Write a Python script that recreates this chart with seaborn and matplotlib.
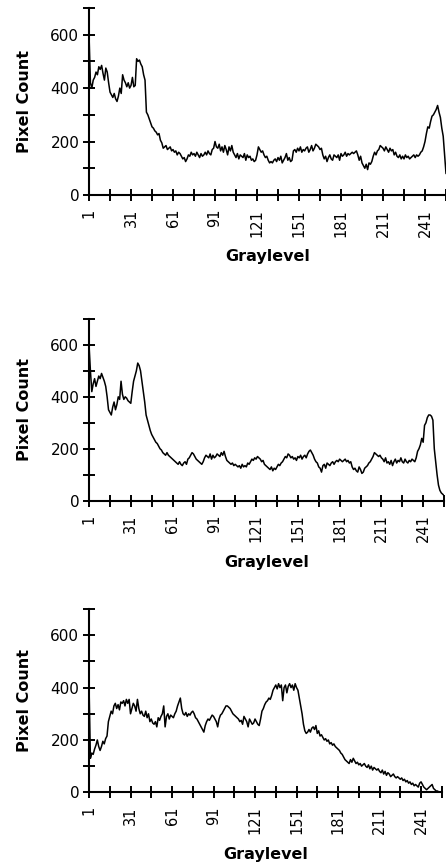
"""
Three graylevel histograms stacked vertically (pixel count per graylevel).
"""

import numpy as np
import matplotlib
matplotlib.use('Agg')
import matplotlib.pyplot as plt
import seaborn as sns

# ---- data -----------------------------------------------------------------
graylevel = np.arange(1, 257)

counts_top = [
    600, 420, 400, 430, 440, 460, 450, 480, 470, 485, 455, 430, 475, 460, 420, 385,
    375, 365, 380, 360, 350, 370, 400, 380, 450, 430, 420, 405, 420, 400, 410, 440,
    405, 410, 510, 500, 505, 490, 480, 450, 430, 310, 300, 285, 270, 255, 250, 240,
    235, 225, 230, 205, 195, 175, 180, 185, 170, 175, 180, 165, 170, 160, 165, 150,
    160, 155, 145, 135, 140, 125, 135, 150, 145, 160, 150, 155, 145, 160, 150, 140,
    155, 145, 150, 160, 150, 165, 155, 150, 170, 175, 200, 180, 175, 190, 165, 180,
    160, 185, 170, 150, 180, 165, 185, 160, 150, 140, 155, 135, 150, 145, 140, 155,
    130, 150, 140, 145, 130, 135, 125, 130, 150, 180, 170, 160, 165, 150, 140, 145,
    130, 120, 125, 120, 130, 135, 125, 140, 130, 145, 120, 130, 140, 155, 130, 140,
    125, 130, 165, 170, 160, 175, 165, 180, 160, 170, 165, 175, 180, 160, 170, 185,
    165, 175, 190, 185, 180, 170, 175, 150, 135, 145, 125, 140, 150, 135, 130, 150,
    145, 140, 150, 130, 155, 145, 150, 160, 145, 155, 150, 155, 160, 155, 160, 165,
    150, 130, 145, 120, 110, 100, 115, 95, 120, 115, 125, 145, 160, 150, 165, 170,
    185, 180, 175, 165, 180, 170, 160, 175, 165, 170, 150, 160, 145, 140, 150, 135,
    145, 135, 150, 140, 145, 135, 140, 145, 150, 140, 150, 145, 150, 160, 165, 180,
    200, 230, 255, 250, 275, 295, 300, 310, 320, 335, 310, 290, 250, 220, 150, 80,
]

counts_mid = [
    600, 500, 420, 450, 470, 440, 460, 480, 470, 490, 475, 460, 440, 400, 350, 340,
    330, 360, 380, 350, 370, 400, 390, 460, 410, 390, 400, 395, 385, 380, 375, 420,
    460, 480, 500, 530, 520, 500, 460, 420, 380, 330, 310, 290, 270, 255, 245, 235,
    225, 220, 210, 200, 195, 185, 180, 175, 185, 175, 170, 165, 160, 155, 150, 145,
    140, 150, 140, 135, 145, 150, 140, 160, 165, 175, 185, 180, 170, 160, 155, 150,
    145, 140, 150, 165, 175, 170, 165, 180, 160, 175, 165, 170, 180, 175, 170, 185,
    175, 190, 170, 155, 150, 145, 140, 145, 135, 140, 135, 130, 135, 125, 140, 130,
    135, 130, 145, 140, 150, 160, 155, 165, 160, 170, 165, 160, 150, 155, 140, 135,
    130, 125, 120, 130, 115, 125, 120, 130, 140, 135, 145, 150, 160, 170, 165, 180,
    175, 165, 170, 160, 165, 155, 170, 165, 175, 160, 170, 175, 165, 180, 190, 195,
    185, 175, 160, 150, 145, 130, 125, 110, 135, 140, 125, 145, 140, 135, 145, 150,
    140, 150, 155, 150, 160, 155, 150, 155, 160, 150, 155, 145, 150, 130, 120, 125,
    115, 110, 130, 120, 105, 110, 125, 130, 135, 145, 150, 160, 170, 185, 180, 175,
    170, 175, 165, 160, 150, 165, 145, 150, 140, 155, 135, 150, 160, 145, 155, 150,
    165, 150, 145, 160, 150, 145, 155, 150, 160, 155, 150, 165, 190, 200, 215, 240,
    225, 290, 300, 320, 330, 330, 325, 310, 200, 150, 100, 60, 40, 30, 25, 20,
]

counts_bot = [
    410, 130, 150, 145, 165, 180, 200, 175, 160, 175, 195, 185, 205, 215, 270, 290,
    310, 300, 330, 340, 320, 335, 315, 345, 340, 350, 330, 355, 340, 355, 300, 320,
    340, 330, 310, 355, 320, 300, 310, 295, 290, 310, 285, 300, 270, 280, 265, 260,
    270, 250, 285, 275, 290, 300, 330, 250, 290, 300, 280, 295, 290, 285, 300, 310,
    330, 345, 360, 320, 300, 295, 305, 290, 300, 295, 305, 310, 300, 285, 280, 270,
    260, 250, 240, 230, 255, 270, 280, 275, 285, 295, 290, 280, 270, 250, 280, 295,
    300, 310, 320, 330, 330, 325, 320, 310, 300, 295, 290, 285, 280, 270, 275, 260,
    290, 280, 270, 250, 280, 270, 260, 265, 280, 270, 260, 255, 280, 310, 320, 335,
    345, 350, 360, 355, 370, 390, 400, 410, 395, 415, 400, 410, 350, 400, 410, 380,
    405, 415, 400, 410, 390, 415, 400, 390, 360, 330, 300, 260, 235, 225, 230, 240,
    230, 245, 250, 240, 255, 225, 235, 215, 220, 210, 200, 205, 195, 200, 185, 190,
    180, 185, 175, 170, 165, 160, 150, 145, 135, 125, 120, 115, 110, 125, 115, 130,
    120, 110, 115, 105, 110, 100, 105, 110, 100, 95, 105, 90, 100, 85, 95, 90,
    85, 90, 80, 75, 85, 70, 80, 65, 75, 70, 60, 65, 70, 60, 55, 60,
    55, 50, 55, 45, 50, 40, 45, 35, 40, 30, 35, 25, 30, 25, 20, 35,
    40, 30, 20, 15, 10, 15, 20, 25, 30, 15, 10, 5, 5, 0, 0, 0,
]

y_major = [0, 200, 400, 600]
y_minor = [100, 300, 500, 700]
x_major = [1, 31, 61, 91, 121, 151, 181, 211, 241]
x_minor = [16, 46, 76, 106, 136, 166, 196, 226, 256]

assert len(counts_top) == len(counts_mid) == len(counts_bot) == 256

# ---- style ----------------------------------------------------------------
sns.set_style('ticks')
plt.rcParams['font.family'] = ['DejaVu Sans']
plt.rcParams['text.color'] = 'black'
plt.rcParams['axes.labelcolor'] = 'black'
plt.rcParams['xtick.color'] = 'black'
plt.rcParams['ytick.color'] = 'black'

fig = plt.figure(figsize=(4.46, 8.65), dpi=100)

# axes boxes in figure fractions (left, bottom, width, height)
boxes = [
    (0.1996, 0.7746, 0.8004, 0.2162),
    (0.1996, 0.4212, 0.7960, 0.2101),
    (0.1996, 0.0840, 0.7910, 0.2119),
]

for box, counts in zip(boxes, [counts_top, counts_mid, counts_bot]):
    ax = fig.add_axes(box)
    sns.lineplot(x=graylevel, y=counts, ax=ax, color='black',
                 linewidth=1.1, estimator=None)

    ax.set_xlim(1, 256)
    ax.set_ylim(0, 700)
    ax.set_xticks(x_major)
    ax.set_xticks(x_minor, minor=True)
    ax.set_yticks(y_major)
    ax.set_yticks(y_minor, minor=True)
    ax.set_xticklabels([str(v) for v in x_major], rotation=90, fontsize=10.5)
    ax.set_yticklabels([str(v) for v in y_major], fontsize=11)

    for which in ('major', 'minor'):
        ax.tick_params(axis='both', which=which, direction='inout',
                       length=8, width=1.4, color='black')
    ax.tick_params(axis='x', which='major', pad=6)
    ax.tick_params(axis='y', which='major', pad=3)

    sns.despine(ax=ax)
    ax.spines['left'].set_linewidth(1.5)
    ax.spines['bottom'].set_linewidth(1.5)
    ax.spines['left'].set_color('black')
    ax.spines['bottom'].set_color('black')

    ax.set_xlabel('Graylevel', fontsize=11.5, fontweight='bold', labelpad=9)
    ax.set_ylabel('Pixel Count', fontsize=11.5, fontweight='bold', labelpad=13)

fig.savefig('out.png', dpi=100)
